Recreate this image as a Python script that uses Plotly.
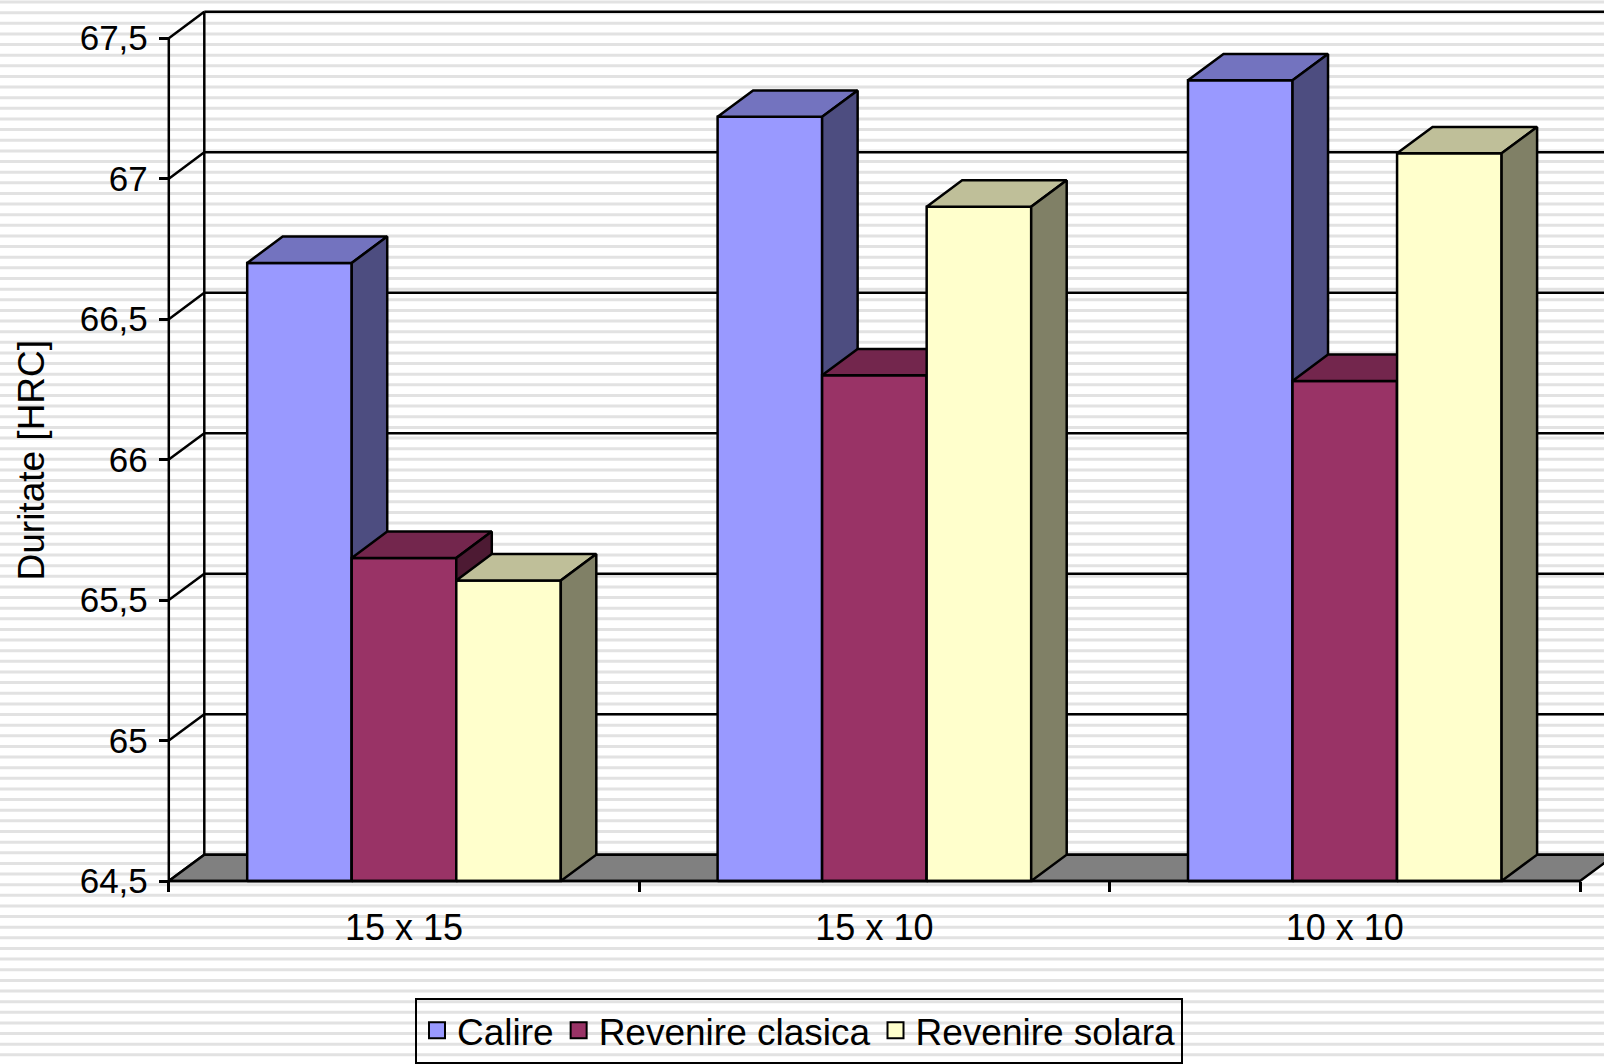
import plotly.graph_objects as go

# ---------------- data ----------------
categories = ["15 x 15", "15 x 10", "10 x 10"]
series_names = ["Calire", "Revenire clasica", "Revenire solara"]
calire = [66.70, 67.22, 67.35]
revenire_clasica = [65.65, 66.30, 66.28]
revenire_solara = [65.57, 66.90, 67.09]
y_tick_values = [64.5, 65, 65.5, 66, 66.5, 67, 67.5]
y_tick_labels = ["64,5", "65", "65,5", "66", "66,5", "67", "67,5"]
y_title = "Duritate [HRC]"

series_values = [calire, revenire_clasica, revenire_solara]

# ---------------- style ----------------
front_colors = ["#9999FF", "#993366", "#FFFFCC"]
top_colors = ["#7373BF", "#73264D", "#BFBF99"]
side_colors = ["#4D4D80", "#4D1A33", "#808066"]
floor_color = "#808080"
edge = "black"
lw = 2.5
FONT = "Liberation Sans, Arial, sans-serif"

# ---------------- pixel layout ----------------
W, H = 1604, 1064
L = 140            # plot area left (px)
B_px = 905         # plot area bottom (px)
x0_px = 168.8      # px of category axis start
cat_px = 470.4     # px per category
ybase_px = 884     # px of lowest tick
yunit_px = 281.9   # px per unit of value
plot_w = W - L
plot_h = B_px

ymin = y_tick_values[0]
ymax = y_tick_values[-1]
ncat = len(categories)

x_range = [(L - x0_px) / cat_px, (W - x0_px) / cat_px]
y_range = [ymin - (B_px - ybase_px) / yunit_px, ymin + ybase_px / yunit_px]

# oblique depth offsets in data units
dx = 35.5 / cat_px
dy = 26.5 / yunit_px

gap = 1.5
nser = len(series_values)
bar_w = 1.0 / (nser + gap)

fig = go.Figure()


def add_line(xs, ys, width=lw):
    fig.add_trace(go.Scatter(x=xs, y=ys, mode="lines",
                             line=dict(color=edge, width=width),
                             hoverinfo="skip", showlegend=False))


def add_polys(polys, color):
    xs, ys = [], []
    for p in polys:
        for (a, b) in p:
            xs.append(a)
            ys.append(b)
        xs.append(p[0][0])
        ys.append(p[0][1])
        xs.append(None)
        ys.append(None)
    fig.add_trace(go.Scatter(x=xs, y=ys, mode="lines", fill="toself",
                             fillcolor=color,
                             line=dict(color=edge, width=lw),
                             hoverinfo="skip", showlegend=False))


# side wall diagonals and back wall gridlines
sx, sy, gx, gy = [], [], [], []
for v in y_tick_values:
    sx += [0, dx, None]
    sy += [v, v + dy, None]
    gx += [dx, ncat + dx, None]
    gy += [v + dy, v + dy, None]
add_line(sx, sy)
add_line(gx, gy)
# back wall left vertical edge
add_line([dx, dx], [ymin + dy, ymax + dy])

# floor
add_polys([[(0, ymin), (ncat, ymin), (ncat + dx, ymin + dy), (dx, ymin + dy)]], floor_color)

# bars (left to right painter's order)
for k, vals in enumerate(series_values):
    fronts, tops, sides = [], [], []
    for i, v in enumerate(vals):
        xl = i + gap / 2 * bar_w + k * bar_w
        xr = xl + bar_w
        fronts.append([(xl, ymin), (xr, ymin), (xr, v), (xl, v)])
        tops.append([(xl, v), (xr, v), (xr + dx, v + dy), (xl + dx, v + dy)])
        sides.append([(xr, ymin), (xr + dx, ymin + dy), (xr + dx, v + dy), (xr, v)])
    add_polys(fronts, front_colors[k])
    add_polys(tops, top_colors[k])
    add_polys(sides, side_colors[k])

# front axis lines
add_line([0, 0], [ymin, ymax])
add_line([0, ncat], [ymin, ymin])

# legend entries
for k, name in enumerate(series_names):
    fig.add_trace(go.Scatter(x=[None], y=[None], mode="markers", name=name,
                             marker=dict(symbol="square", size=20,
                                         color=front_colors[k],
                                         line=dict(color=edge, width=2))))

# striped background
stripe_period = 10.67
stripes = []
py = 2.0
while py < H:
    yp = (B_px - py) / plot_h
    stripes.append(dict(type="line", xref="paper", yref="paper",
                        x0=-L / plot_w, x1=1.0, y0=yp, y1=yp,
                        line=dict(color="#E2E2E2", width=3), layer="below"))
    py += stripe_period

fig.update_layout(
    width=W, height=H, autosize=False,
    margin=dict(l=L, r=0, t=0, b=H - B_px, pad=0),
    paper_bgcolor="white", plot_bgcolor="rgba(0,0,0,0)",
    font=dict(family=FONT, color="black", size=36),
    shapes=stripes,
    showlegend=True,
    legend=dict(orientation="h", x=(415 - L) / plot_w, xanchor="left",
                y=(B_px - 1001) / plot_h, yanchor="top",
                bgcolor="rgba(0,0,0,0)", bordercolor="black", borderwidth=2,
                font=dict(size=37, family=FONT), itemclick=False,
                tracegroupgap=0),
    xaxis=dict(range=x_range, showgrid=False, zeroline=False, showline=False,
               tickvals=[i + 0.5 for i in range(ncat)], ticktext=categories,
               ticks="", tickfont=dict(size=36), anchor="free",
               position=(B_px - ybase_px) / plot_h, ticklabelstandoff=22,
               minor=dict(tickvals=list(range(ncat + 1)), ticks="outside",
                          ticklen=10, tickwidth=lw, tickcolor="black",
                          showgrid=False)),
    yaxis=dict(range=y_range, showgrid=False, zeroline=False, showline=False,
               tickvals=y_tick_values, ticktext=y_tick_labels,
               ticks="outside", ticklen=10, tickwidth=lw, tickcolor="black",
               tickfont=dict(size=35), anchor="free",
               position=(x0_px - L) / plot_w, ticklabelstandoff=4),
    annotations=[dict(text=y_title, textangle=-90, xref="paper", yref="paper",
                      x=(31 - L) / plot_w, y=(B_px - 462) / plot_h,
                      xanchor="center", yanchor="middle", showarrow=False,
                      font=dict(size=37, family=FONT))],
)

fig.write_html("out.html")
